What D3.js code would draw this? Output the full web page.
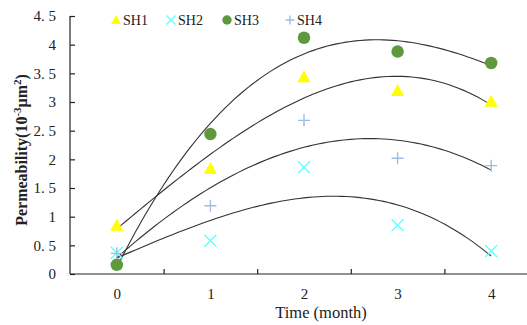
<!DOCTYPE html>
<html>
<head>
<meta charset="utf-8">
<script src="https://cdn.jsdelivr.net/npm/d3@7"></script>
<style>
  html, body { margin: 0; padding: 0; background: #fff; }
  svg text { font-family: "Liberation Serif", "DejaVu Serif", serif; fill: #222; }
</style>
</head>
<body>
<svg id="chart"></svg>
<script>
// ── Data ──────────────────────────────────────────────────────────────────────
const months = [0, 1, 2, 3, 4];
const seriesNames = ['SH1', 'SH2', 'SH3', 'SH4'];
const sh1 = [0.85, 1.84, 3.44, 3.20, 3.01];
const sh2 = [0.37, 0.58, 1.86, 0.85, 0.40];
const sh3 = [0.16, 2.44, 4.12, 3.88, 3.68];
const sh4 = [0.36, 1.19, 2.68, 2.02, 1.89];
const yTicks = [0, 0.5, 1, 1.5, 2, 2.5, 3, 3.5, 4, 4.5];

const W = 527, H = 325;
const svg = d3.select('#chart').attr('width', W).attr('height', H);

const m = { left: 70, top: 16, bottom: 274 };
const x = d3.scaleLinear().domain([-0.5, 4.5]).range([m.left, m.left + 5 * 93.6]);
const y = d3.scaleLinear().domain([0, 4.5]).range([m.bottom, m.top]);

// ── Axes ──────────────────────────────────────────────────────────────────────
const fmt = d => String(d).replace('.', '. ');

const gy = svg.append('g').attr('transform', `translate(${m.left},0)`)
    .call(d3.axisLeft(y).tickValues(yTicks).tickSize(-5).tickPadding(14).tickFormat(fmt));
gy.select('.domain').attr('d', `M0,${m.bottom}V${m.top}`);

const gx = svg.append('g').attr('transform', `translate(0,${m.bottom})`)
    .call(d3.axisBottom(x).tickValues(months).tickSize(0).tickPadding(14).tickFormat(d3.format('d')));
gx.select('.domain').attr('d', `M${m.left},0H${W}`);

// category separators, pointing into the plot
svg.append('g').attr('transform', `translate(0,${m.bottom})`)
    .call(d3.axisBottom(x).tickValues([0.5, 1.5, 2.5, 3.5]).tickSize(-5).tickFormat(''))
    .select('.domain').remove();

svg.selectAll('.domain, .tick line').attr('stroke', '#222').attr('stroke-width', 1.2);
svg.selectAll('.tick text').attr('font-size', 15).attr('fill', '#333')
    .style('font-family', '"Liberation Serif", serif');

// axis titles
svg.append('text')
    .attr('x', 321).attr('y', 318)
    .attr('text-anchor', 'middle').attr('font-size', 16.5)
    .text('Time (month)');

const yt = svg.append('text')
    .attr('transform', 'translate(27,150) rotate(-90)')
    .attr('text-anchor', 'middle').attr('font-size', 16).attr('font-weight', 'bold');
yt.append('tspan').text('Permeability(10');
yt.append('tspan').attr('dy', -6).attr('font-size', 11).text('-3');
yt.append('tspan').attr('dy', 6).text('μm');
yt.append('tspan').attr('dy', -6).attr('font-size', 11).text('2');
yt.append('tspan').attr('dy', 6).text(')');

// ── Polynomial (order 3) trendlines ───────────────────────────────────────────
function polyFit(xs, ys, order) {
    const n = order + 1;
    const A = d3.range(n).map(i => d3.range(n).map(j => d3.sum(xs, v => Math.pow(v, i + j))));
    const b = d3.range(n).map(i => d3.sum(xs, (v, k) => Math.pow(v, i) * ys[k]));
    for (let c = 0; c < n; c++) {
        let p = c;
        for (let r = c + 1; r < n; r++) if (Math.abs(A[r][c]) > Math.abs(A[p][c])) p = r;
        [A[c], A[p]] = [A[p], A[c]]; [b[c], b[p]] = [b[p], b[c]];
        for (let r = c + 1; r < n; r++) {
            const f = A[r][c] / A[c][c];
            for (let k = c; k < n; k++) A[r][k] -= f * A[c][k];
            b[r] -= f * b[c];
        }
    }
    const coef = new Array(n).fill(0);
    for (let r = n - 1; r >= 0; r--) {
        let s = b[r];
        for (let k = r + 1; k < n; k++) s -= A[r][k] * coef[k];
        coef[r] = s / A[r][r];
    }
    return t => coef.reduce((acc, c, i) => acc + c * Math.pow(t, i), 0);
}

const allSeries = [sh1, sh2, sh3, sh4];
const samples = d3.range(0, 4.0001, 0.05);
const line = d3.line().x(d => x(d[0])).y(d => y(d[1]));

const gTrend = svg.append('g');
allSeries.forEach(vals => {
    const f = polyFit(months, vals, 3);
    gTrend.append('path')
        .attr('d', line(samples.map(t => [t, f(t)])))
        .attr('fill', 'none').attr('stroke', '#333').attr('stroke-width', 1.1);
});

// ── Markers ───────────────────────────────────────────────────────────────────
const styles = [
    { color: '#ffff00', shape: 'tri' },
    { color: '#66ffff', shape: 'x' },
    { color: '#5e9a3d', shape: 'circle' },
    { color: '#9dbce6', shape: 'plus' }
];

function drawMarker(g, cx, cy, st, s) {
    if (st.shape === 'tri') {
        g.append('path')
            .attr('d', `M${cx},${cy - s * 0.55}L${cx + s * 0.55},${cy + s * 0.45}L${cx - s * 0.55},${cy + s * 0.45}Z`)
            .attr('fill', st.color);
    } else if (st.shape === 'circle') {
        g.append('circle').attr('cx', cx).attr('cy', cy).attr('r', s * 0.52).attr('fill', st.color);
    } else if (st.shape === 'x') {
        const h = s * 0.5;
        g.append('path')
            .attr('d', `M${cx - h},${cy - h}L${cx + h},${cy + h}M${cx - h},${cy + h}L${cx + h},${cy - h}`)
            .attr('stroke', st.color).attr('stroke-width', 1.4).attr('fill', 'none');
    } else {
        const h = s * 0.5;
        g.append('path')
            .attr('d', `M${cx - h},${cy}H${cx + h}M${cx},${cy - h}V${cy + h}`)
            .attr('stroke', st.color).attr('stroke-width', 1.4).attr('fill', 'none');
    }
}

const gMarks = svg.append('g');
allSeries.forEach((vals, i) => {
    vals.forEach((v, k) => drawMarker(gMarks, x(months[k]), y(v), styles[i], 12));
});

// ── Legend ────────────────────────────────────────────────────────────────────
const legendX = [116, 171, 227, 290];
const gLeg = svg.append('g');
seriesNames.forEach((name, i) => {
    drawMarker(gLeg, legendX[i], 20, styles[i], 9);
    gLeg.append('text')
        .attr('x', legendX[i] + 7).attr('y', 25)
        .attr('font-size', 14)
        .text(name);
});
</script>
</body>
</html>
